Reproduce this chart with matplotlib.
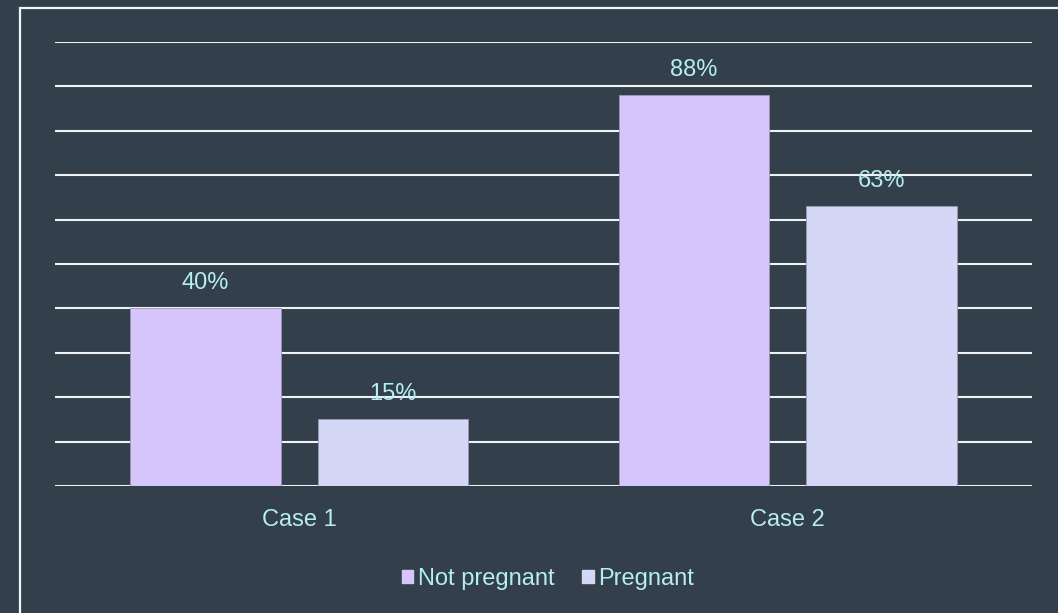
import matplotlib
matplotlib.use("Agg")
import matplotlib.pyplot as plt
from matplotlib.patches import Rectangle
import numpy as np

categories = ["Case 1", "Case 2"]
series_names = ["Not pregnant", "Pregnant"]
not_pregnant = [40, 88]
pregnant = [15, 63]

bg = "#333f4a"
text_color = "#b4eef0"
bar_colors = ["#d5c5fa", "#d5d7f7"]
grid_color = "#eef2f4"
fs = 17

plt.rcParams["font.family"] = ["Liberation Sans", "DejaVu Sans"]

W, H = 1058, 613
fig = plt.figure(figsize=(W / 100, H / 100), dpi=100, facecolor=bg)

# outer frame (only its top and left edges fall inside the canvas)
fig.add_artist(Rectangle((19.5 / W, -0.1), 1.2, 1 - 7.5 / H + 0.1,
                         transform=fig.transFigure, fill=False,
                         edgecolor="#f2f6f8", linewidth=1.6))

ax = fig.add_axes([55 / W, 1 - 486 / H, (1032 - 55) / W, (486 - 42) / H])
ax.set_facecolor(bg)
ax.set_xlim(-0.5, 1.5)
ax.set_ylim(0, 100)

for y in np.arange(0, 101, 10):
    ax.axhline(y, color=grid_color, linewidth=1.5, zorder=1)

x = np.arange(len(categories))
width = 0.308
offset = 0.192
for vals, name, col, off in zip([not_pregnant, pregnant], series_names,
                                bar_colors, [-offset, offset]):
    bars = ax.bar(x + off, vals, width, color=col, edgecolor="#9a96b4",
                  linewidth=0.6, label=name, zorder=2)
    for b, v in zip(bars, vals):
        ax.annotate(f"{v}%", (b.get_x() + b.get_width() / 2, v),
                    xytext=(0, 18.5), textcoords="offset points",
                    ha="center", va="center", color=text_color, fontsize=fs,
                    zorder=3)

for s in ax.spines.values():
    s.set_visible(False)
ax.set_yticks([])
ax.set_xticks(x)
ax.set_xticklabels(categories, color=text_color, fontsize=fs)
ax.tick_params(axis="x", length=0, pad=16.5)

handles = [Rectangle((0, 0), 1, 1, color=c) for c in bar_colors]
leg = fig.legend(handles, series_names, loc="center",
                 bbox_to_anchor=(548 / W, 1 - 579 / H), ncol=2, frameon=False,
                 fontsize=fs, handlelength=0.5, handleheight=0.5,
                 handletextpad=0.2, columnspacing=1.15)
for t in leg.get_texts():
    t.set_color(text_color)

fig.savefig("out.png", dpi=100, facecolor=bg)
